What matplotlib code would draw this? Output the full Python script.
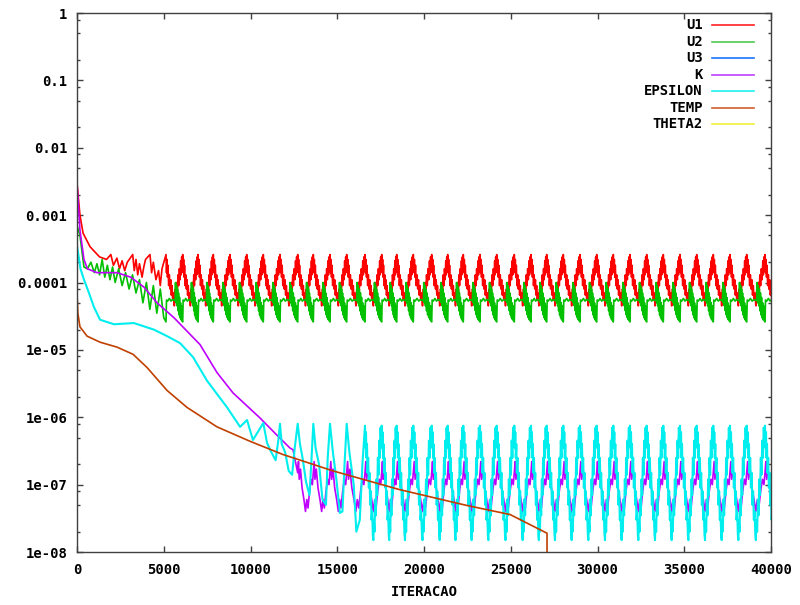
import matplotlib
matplotlib.use('Agg')
import matplotlib.pyplot as plt
from matplotlib.ticker import FixedLocator, FixedFormatter, NullFormatter

# series names / colours
series_names = ['U1', 'U2', 'U3', 'K', 'EPSILON', 'TEMP', 'THETA2']
line_colors = ['#ff0000', '#00c000', '#0080ff', '#c000ff', '#00eeee', '#c04000', '#eeee00']
legend_colors = ['#ff2020', '#50c850', '#1a75ff', '#c040ff', '#20f0f0', '#d06030', '#f0f040']

# iterations where the periodic residual cycles peak
cycle_peaks = [5130, 6092, 6980, 7856, 8818, 9781, 10738, 11700, 12720, 13620,
               14582, 15544, 16599, 17562, 18427, 19383, 20444, 21366, 22265,
               23228, 24190, 25205, 26167, 27072, 28029, 28991, 29954, 30911,
               31873, 32836, 33793, 34756, 35718, 36675, 37637, 38600, 39655, 40620]

# U1 - start, then one cycle shape (fraction of cycle, value)
u1_x0 = [0, 170, 350, 750, 1300, 1700, 1950, 2100, 2300, 2450, 2600, 2750, 2900,
         3210, 3300, 3400, 3500, 3600, 3750, 3850, 3950, 4207, 4300, 4400, 4550,
         4700, 4800, 4900]
u1_y0 = [3e-3, 1e-3, 5.4e-4, 3.4e-4, 2.4e-4, 2.2e-4, 2.6e-4, 1.8e-4, 2.3e-4, 1.6e-4,
         2.1e-4, 1.5e-4, 2.0e-4, 2.6e-4, 1.5e-4, 2.2e-4, 1.3e-4, 1.9e-4, 1.2e-4,
         1.7e-4, 2.2e-4, 2.6e-4, 1.4e-4, 2.0e-4, 1.1e-4, 1.5e-4, 9e-5, 1.6e-4]
u1_cyc_f = [0, .03, .06, .09, .12, .16, .2, .24, .28, .32, .36, .4, .45, .5, .55,
            .6, .64, .68, .72, .76, .8, .84, .88, .91, .94, .97]
u1_cyc_v = [2.6e-4, 1.4e-4, 2.2e-4, 1.2e-4, 1.8e-4, 9e-5, 1.3e-4, 8e-5, 1.1e-4,
            6.5e-5, 9e-5, 5.5e-5, 7e-5, 4.5e-5, 8e-5, 5.5e-5, 1.0e-4, 7e-5, 1.3e-4,
            9e-5, 1.6e-4, 1.1e-4, 2.1e-4, 1.3e-4, 2.4e-4, 1.6e-4]

# U2
u2_x0 = [0, 170, 400, 600, 800, 1000, 1150, 1300, 1450, 1600, 1750, 1900, 2050,
         2200, 2400, 2600, 2800, 3000, 3200, 3400, 3600, 3800, 4000, 4200, 4400,
         4600, 4800, 5000]
u2_y0 = [7e-4, 5e-4, 1.7e-4, 1.6e-4, 2e-4, 1.4e-4, 1.9e-4, 1.3e-4, 2.2e-4, 1.2e-4,
         1.8e-4, 1.1e-4, 1.7e-4, 1.0e-4, 1.6e-4, 9e-5, 1.4e-4, 8e-5, 1.3e-4, 7e-5,
         1.1e-4, 5e-5, 1.0e-4, 4e-5, 9e-5, 3.5e-5, 8e-5, 3e-5]
u2_cyc_f = [0, .03, .1, .2, .3, .4, .5, .55, .57, .6, .63, .66, .69, .72, .75, .78,
            .81, .84, .87, .9, .93, .96]
u2_cyc_v = [2.6e-5, 5.5e-5, 5.3e-5, 5.8e-5, 5.3e-5, 5.6e-5, 5.4e-5, 5.6e-5, 1.0e-4,
            5e-5, 9e-5, 4.5e-5, 8e-5, 3.8e-5, 7e-5, 3.3e-5, 6e-5, 3e-5, 5e-5,
            2.8e-5, 4.5e-5, 2.7e-5]

# K
k_x0 = [0, 170, 400, 600, 1150, 2300, 3100, 3870, 4610, 5590, 6340, 7090, 8070,
        8990, 10540, 11500, 12270, 12450]
k_y0 = [3e-3, 6e-4, 2.2e-4, 1.6e-4, 1.4e-4, 1.4e-4, 1.2e-4, 8.5e-5, 5e-5, 3e-5,
        1.9e-5, 1.2e-5, 4.6e-6, 2.3e-6, 9.8e-7, 5.5e-7, 3.5e-7, 3.3e-7]
k_cyc_f = [0, 0.05, 0.1, 0.18, 0.28, 0.4, 0.5, 0.58, 0.66, 0.76, 0.86, 0.94]
k_cyc_v = [1.5e-7, 2.2e-7, 1.2e-7, 1.7e-7, 9e-8, 6e-8, 4e-8, 6e-8, 4.5e-8, 8e-8,
           1.2e-7, 1.0e-7]

# EPSILON
eps_x0 = [0, 200, 403, 690, 980, 1330, 2130, 3280, 4430, 5190, 5940, 6690, 7490,
          8650, 9400, 9800, 10140, 10738, 10950, 11150, 11450, 11600, 11700, 11800,
          12000, 12200, 12400, 12550, 12720, 12850, 13000, 13200, 13400, 13500,
          13620, 13750, 13950, 14150, 14350, 14450, 14582, 14750, 14950, 15150,
          15300, 15420, 15544, 15700, 15950, 16100, 16300, 16450]
eps_y0 = [3.5e-4, 1.6e-4, 1.1e-4, 7e-5, 4.3e-5, 2.8e-5, 2.4e-5, 2.5e-5, 2.0e-5,
          1.6e-5, 1.26e-5, 7.8e-6, 3.5e-6, 1.4e-6, 7.2e-7, 9.1e-7, 4.6e-7, 8.2e-7,
          4.2e-7, 3.2e-7, 2.3e-7, 4.5e-7, 8e-7, 4e-7, 3e-7, 1.6e-7, 1.4e-7, 3.5e-7,
          8e-7, 4e-7, 2.5e-7, 1.1e-7, 7e-8, 2e-7, 8e-7, 3.5e-7, 2e-7, 6e-8, 5e-8,
          2.5e-7, 8e-7, 3e-7, 1.2e-7, 3.8e-8, 4e-8, 2e-7, 8e-7, 3e-7, 1e-7, 2e-8,
          3e-8, 2e-7]
eps_cyc_f = [0, .03, .06, .09, .12, .15, .19, .23, .27, .31, .35, .39, .43, .47,
             .5, .53, .57, .61, .65, .69, .73, .77, .81, .85, .89, .93, .97]
eps_cyc_v = [7.5e-7, 3.5e-7, 6e-7, 2.5e-7, 4e-7, 1.5e-7, 2.5e-7, 9e-8, 1.5e-7,
             5e-8, 8e-8, 3e-8, 4e-8, 1.8e-8, 1.5e-8, 3e-8, 2e-8, 6e-8, 3.5e-8,
             1.2e-7, 7e-8, 2.5e-7, 1.4e-7, 4.5e-7, 2.5e-7, 7e-7, 4e-7]

# TEMP
temp_x = [0, 50, 170, 580, 1330, 2300, 3230, 4030, 5190, 6340, 8070, 9970, 11870,
          14750, 18620, 22480, 24960, 27090, 27100]
temp_y = [7e-5, 3.5e-5, 2.2e-5, 1.6e-5, 1.3e-5, 1.1e-5, 8.6e-6, 5.5e-6, 2.5e-6,
          1.4e-6, 7.2e-7, 4.4e-7, 2.8e-7, 1.6e-7, 8.4e-8, 4.9e-8, 3.6e-8, 1.9e-8, 1e-10]

# U3 and THETA2 never show up inside the plotted range
u3_x, u3_y = [], []
theta2_x, theta2_y = [], []

yticks = [1, 0.1, 0.01, 0.001, 0.0001, 1e-5, 1e-6, 1e-7, 1e-8]
ytick_labels = ['1', '0.1', '0.01', '0.001', '0.0001', '1e-05', '1e-06', '1e-07', '1e-08']
xticks = [0, 5000, 10000, 15000, 20000, 25000, 30000, 35000, 40000]


def add_cycles(x0, y0, start, frac, vals):
    xs, ys = list(x0), list(y0)
    peaks = [p for p in cycle_peaks if p >= start]
    for a, b in zip(peaks[:-1], peaks[1:]):
        for f, v in zip(frac, vals):
            xs.append(a + f * (b - a))
            ys.append(v)
    xs.append(peaks[-1])
    ys.append(vals[0])
    return xs, ys


u1_x, u1_y = add_cycles(u1_x0, u1_y0, 5130, u1_cyc_f, u1_cyc_v)
u2_x, u2_y = add_cycles(u2_x0, u2_y0, 5130, u2_cyc_f, u2_cyc_v)
k_x, k_y = add_cycles(k_x0, k_y0, 12720, k_cyc_f, k_cyc_v)
eps_x, eps_y = add_cycles(eps_x0, eps_y0, 16599, eps_cyc_f, eps_cyc_v)

data = [(u1_x, u1_y), (u2_x, u2_y), (u3_x, u3_y), (k_x, k_y), (eps_x, eps_y),
        (temp_x, temp_y), (theta2_x, theta2_y)]
widths = [1.2, 1.2, 1.0, 1.2, 1.5, 1.2, 1.0]

font = {'family': 'DejaVu Sans Mono', 'weight': 'bold', 'size': 10}

fig = plt.figure(figsize=(8.0, 6.05), dpi=100)
ax = fig.add_axes([0.09625, 0.0876, 0.8675, 0.8909])

for (x, y), c, w in zip(data, line_colors, widths):
    ax.plot(x, y, color=c, lw=w)

ax.set_yscale('log')
ax.set_xlim(0, 40000)
ax.set_ylim(1e-8, 1)

ax.yaxis.set_major_locator(FixedLocator(yticks))
ax.yaxis.set_major_formatter(FixedFormatter(ytick_labels))
minor = [m * 10.0 ** e for e in range(-8, 0) for m in (2, 5, 8)]
ax.yaxis.set_minor_locator(FixedLocator(minor))
ax.yaxis.set_minor_formatter(NullFormatter())
ax.set_xticks(xticks)
ax.set_xticklabels([str(t) for t in xticks])

for s in ax.spines.values():
    s.set_color('#404040')
    s.set_linewidth(1.0)
ax.tick_params(which='both', direction='in', top=True, right=True, color='#404040')
ax.tick_params(which='major', length=4.5, width=1.0)
ax.tick_params(which='minor', length=2.2, width=1.0)
ax.tick_params(axis='x', pad=8)
ax.tick_params(axis='y', pad=7)
for lab in ax.get_xticklabels() + ax.get_yticklabels():
    lab.set_fontfamily(font['family'])
    lab.set_fontweight('bold')
    lab.set_fontsize(10)

ax.set_xlabel('ITERACAO', fontdict=font, va='center')
ax.xaxis.set_label_coords(0.5, -40 / 539)

# legend, gnuplot style (text right aligned, sample line on the right)
row_y = [0.9777, 0.9468, 0.9160, 0.8850, 0.8550, 0.8243, 0.7935]
for name, c, yy in zip(series_names, legend_colors, row_y):
    ax.text(0.902, yy, name, transform=ax.transAxes, ha='right', va='center', **font)
    ax.plot([0.915, 0.9755], [yy, yy], transform=ax.transAxes, color=c, lw=1.2,
            clip_on=False)

fig.savefig('out.png', dpi=100)
